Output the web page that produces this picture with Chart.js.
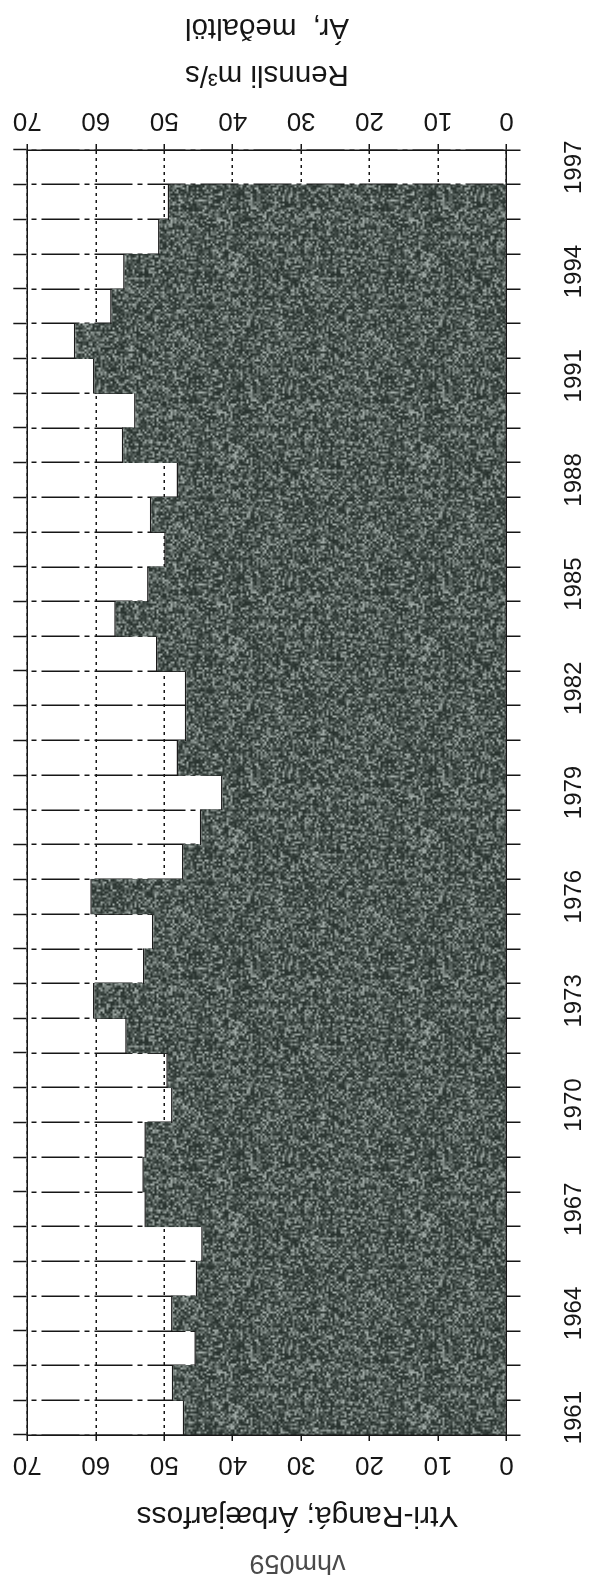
<!DOCTYPE html>
<html>
<head>
<meta charset="utf-8">
<script src="https://cdn.jsdelivr.net/npm/chart.js@4.4.0/dist/chart.umd.min.js"></script>
<style>
  html, body { margin: 0; padding: 0; background: #fff; }
  /* the sheet is printed upside down, so the whole chart is turned half a turn */
  #wrap { width: 595px; height: 1580px; transform: rotate(180deg); }
</style>
</head>
<body>
<div id="wrap"><canvas id="flowChart"></canvas></div>
<script>
/*********************************************************
 DATA
*********************************************************/
const years = [
  1961, 1962, 1963, 1964, 1965, 1966, 1967, 1968, 1969, 1970,
  1971, 1972, 1973, 1974, 1975, 1976, 1977, 1978, 1979, 1980,
  1981, 1982, 1983, 1984, 1985, 1986, 1987, 1988, 1989, 1990,
  1991, 1992, 1993, 1994, 1995, 1996, 1997
];

// mean yearly discharge, m3/s (1997 not complete -> no bar)
const meanFlow = [
  47.3, 48.9, 45.6, 49.0, 45.4, 44.6, 52.9, 53.2, 52.9, 49.0,
  49.7, 55.7, 60.4, 53.1, 51.8, 60.8, 47.4, 44.8, 41.7, 48.2,
  47.0, 47.0, 51.2, 57.3, 52.5, 50.0, 52.1, 48.2, 56.2, 54.4,
  60.4, 63.2, 57.9, 56.0, 50.9, 49.5, null
];

const labelledYears = [1961, 1964, 1967, 1970, 1973, 1976, 1979, 1982, 1985, 1988, 1991, 1994, 1997];
const flowTicks = [0, 10, 20, 30, 40, 50, 60, 70];

const stationId   = "vhm059";
const stationName = "Ytri-Rangá; Árbæjarfoss";
const flowTitle   = ["Rennsli m³/s", "Ár,  meðaltöl"];

/*********************************************************
 STYLE
*********************************************************/
const FONT = '"Liberation Sans", Arial, Helvetica, sans-serif';
const INK = "#161616";

Chart.defaults.font.family = FONT;
Chart.defaults.color = INK;

// speckled dark fill, like a halftone screen.
// cell noise is interpolated with wrap-around so the tile has no seams
function grainPattern() {
  const n = 96, k = 2, size = n * k;
  const cell = [];
  for (let j = 0; j < n; j++) {
    for (let i = 0; i < n; i++) {
      const h = Math.sin(i * 12.9898 + j * 78.233) * 43758.5453;
      const t = h - Math.floor(h);
      cell.push(50 + t * t * 125);
    }
  }
  const at = (i, j) => cell[((j + n) % n) * n + ((i + n) % n)];

  const c = document.createElement("canvas");
  c.width = c.height = size;
  const g = c.getContext("2d");
  const img = g.createImageData(size, size);
  for (let y = 0; y < size; y++) {
    for (let x = 0; x < size; x++) {
      const fx = x / k - 0.5, fy = y / k - 0.5;
      const i0 = Math.floor(fx), j0 = Math.floor(fy);
      const ax = fx - i0, ay = fy - j0;
      const v =
        at(i0, j0) * (1 - ax) * (1 - ay) + at(i0 + 1, j0) * ax * (1 - ay) +
        at(i0, j0 + 1) * (1 - ax) * ay + at(i0 + 1, j0 + 1) * ax * ay;
      const p = (y * size + x) * 4;
      img.data[p] = v - 10;
      img.data[p + 1] = v;
      img.data[p + 2] = v - 4;
      img.data[p + 3] = 255;
    }
  }
  g.putImageData(img, 0, 0);
  return g.createPattern(c, "repeat");
}

// year labels run along the axis, so they are drawn turned a quarter
const yearLabels = {
  id: "yearLabels",
  afterDraw(chart) {
    const s = chart.scales.y;
    const c = chart.ctx;
    c.save();
    c.font = "24px " + FONT;
    c.fillStyle = INK;
    c.textAlign = "center";
    c.textBaseline = "middle";
    labelledYears.forEach(yr => {
      const py = s.getPixelForValue(years.indexOf(yr));
      c.save();
      c.translate(21, py);
      c.rotate(Math.PI / 2);
      c.fillText(String(yr), 0, 0);
      c.restore();
    });
    c.restore();
  }
};

const valueAxis = (pos, height, extra) => Object.assign({
  type: "linear",
  position: pos,
  min: 0,
  max: 70,
  afterBuildTicks: s => { s.ticks = flowTicks.map(v => ({ value: v })); },
  afterFit: s => { s.height = height; },
  ticks: { font: { size: 26 }, color: INK, padding: 8 },
  grid: {
    color: INK,
    lineWidth: 1.5,
    tickLength: 6,
    tickWidth: 1.5,
    tickColor: INK
  },
  border: { color: INK, width: 1.5, dash: [3, 4], z: 1 }
}, extra);

const yearAxis = (pos, width, extra) => Object.assign({
  type: "category",
  position: pos,
  labels: years.map(String),
  offset: true,
  afterFit: s => { s.width = width; },
  ticks: { display: false },
  grid: {
    offset: true,
    color: INK,
    lineWidth: 1.5,
    tickLength: 14,
    tickWidth: 1.5,
    tickColor: INK
  },
  border: { color: INK, width: 1.5, dash: [38, 5, 5, 5], dashOffset: 51, z: 1 }
}, extra);

/*********************************************************
 CHART
*********************************************************/
const ctx = document.getElementById("flowChart").getContext("2d");

const flowChart = new Chart(ctx, {
  type: "bar",
  data: {
    labels: years.map(String),
    datasets: [{
      data: meanFlow,
      backgroundColor: grainPattern(),
      borderColor: "#1b1b1b",
      borderWidth: { top: 0, bottom: 0, left: 0, right: 1.5 },
      barPercentage: 1.03,
      categoryPercentage: 1
    }]
  },
  options: {
    indexAxis: "y",
    responsive: true,
    maintainAspectRatio: false,
    animation: false,
    layout: { padding: 0 },
    plugins: {
      legend: { display: false },
      tooltip: { enabled: false },
      title: {
        display: true,
        text: stationId,
        color: "#4a4a4a",
        font: { size: 27, weight: "normal" },
        padding: { top: 1, bottom: 0 }
      },
      subtitle: {
        display: true,
        text: stationName,
        color: INK,
        font: { size: 30 },
        padding: { top: 13, bottom: 0 }
      }
    },
    scales: {
      x: valueAxis("bottom", 150, {
        title: {
          display: true,
          text: flowTitle,
          color: INK,
          font: { size: 29.5, lineHeight: 47 / 29.5 },
          padding: { top: 0, bottom: 4 }
        }
      }),
      x2: valueAxis("top", 145 - (1 + 27 * 1.2) - (13 + 30 * 1.2), {
        grid: {
          drawOnChartArea: false,
          lineWidth: 1.5,
          tickLength: 6,
          tickWidth: 1.5,
          tickColor: INK
        }
      }),
      y: yearAxis("left", 88.5, {}),
      y2: yearAxis("right", 27.3, {
        grid: {
          offset: true,
          drawOnChartArea: false,
          tickLength: 14,
          tickWidth: 1.5,
          tickColor: INK
        }
      })
    }
  },
  plugins: [yearLabels]
});
</script>
</body>
</html>
